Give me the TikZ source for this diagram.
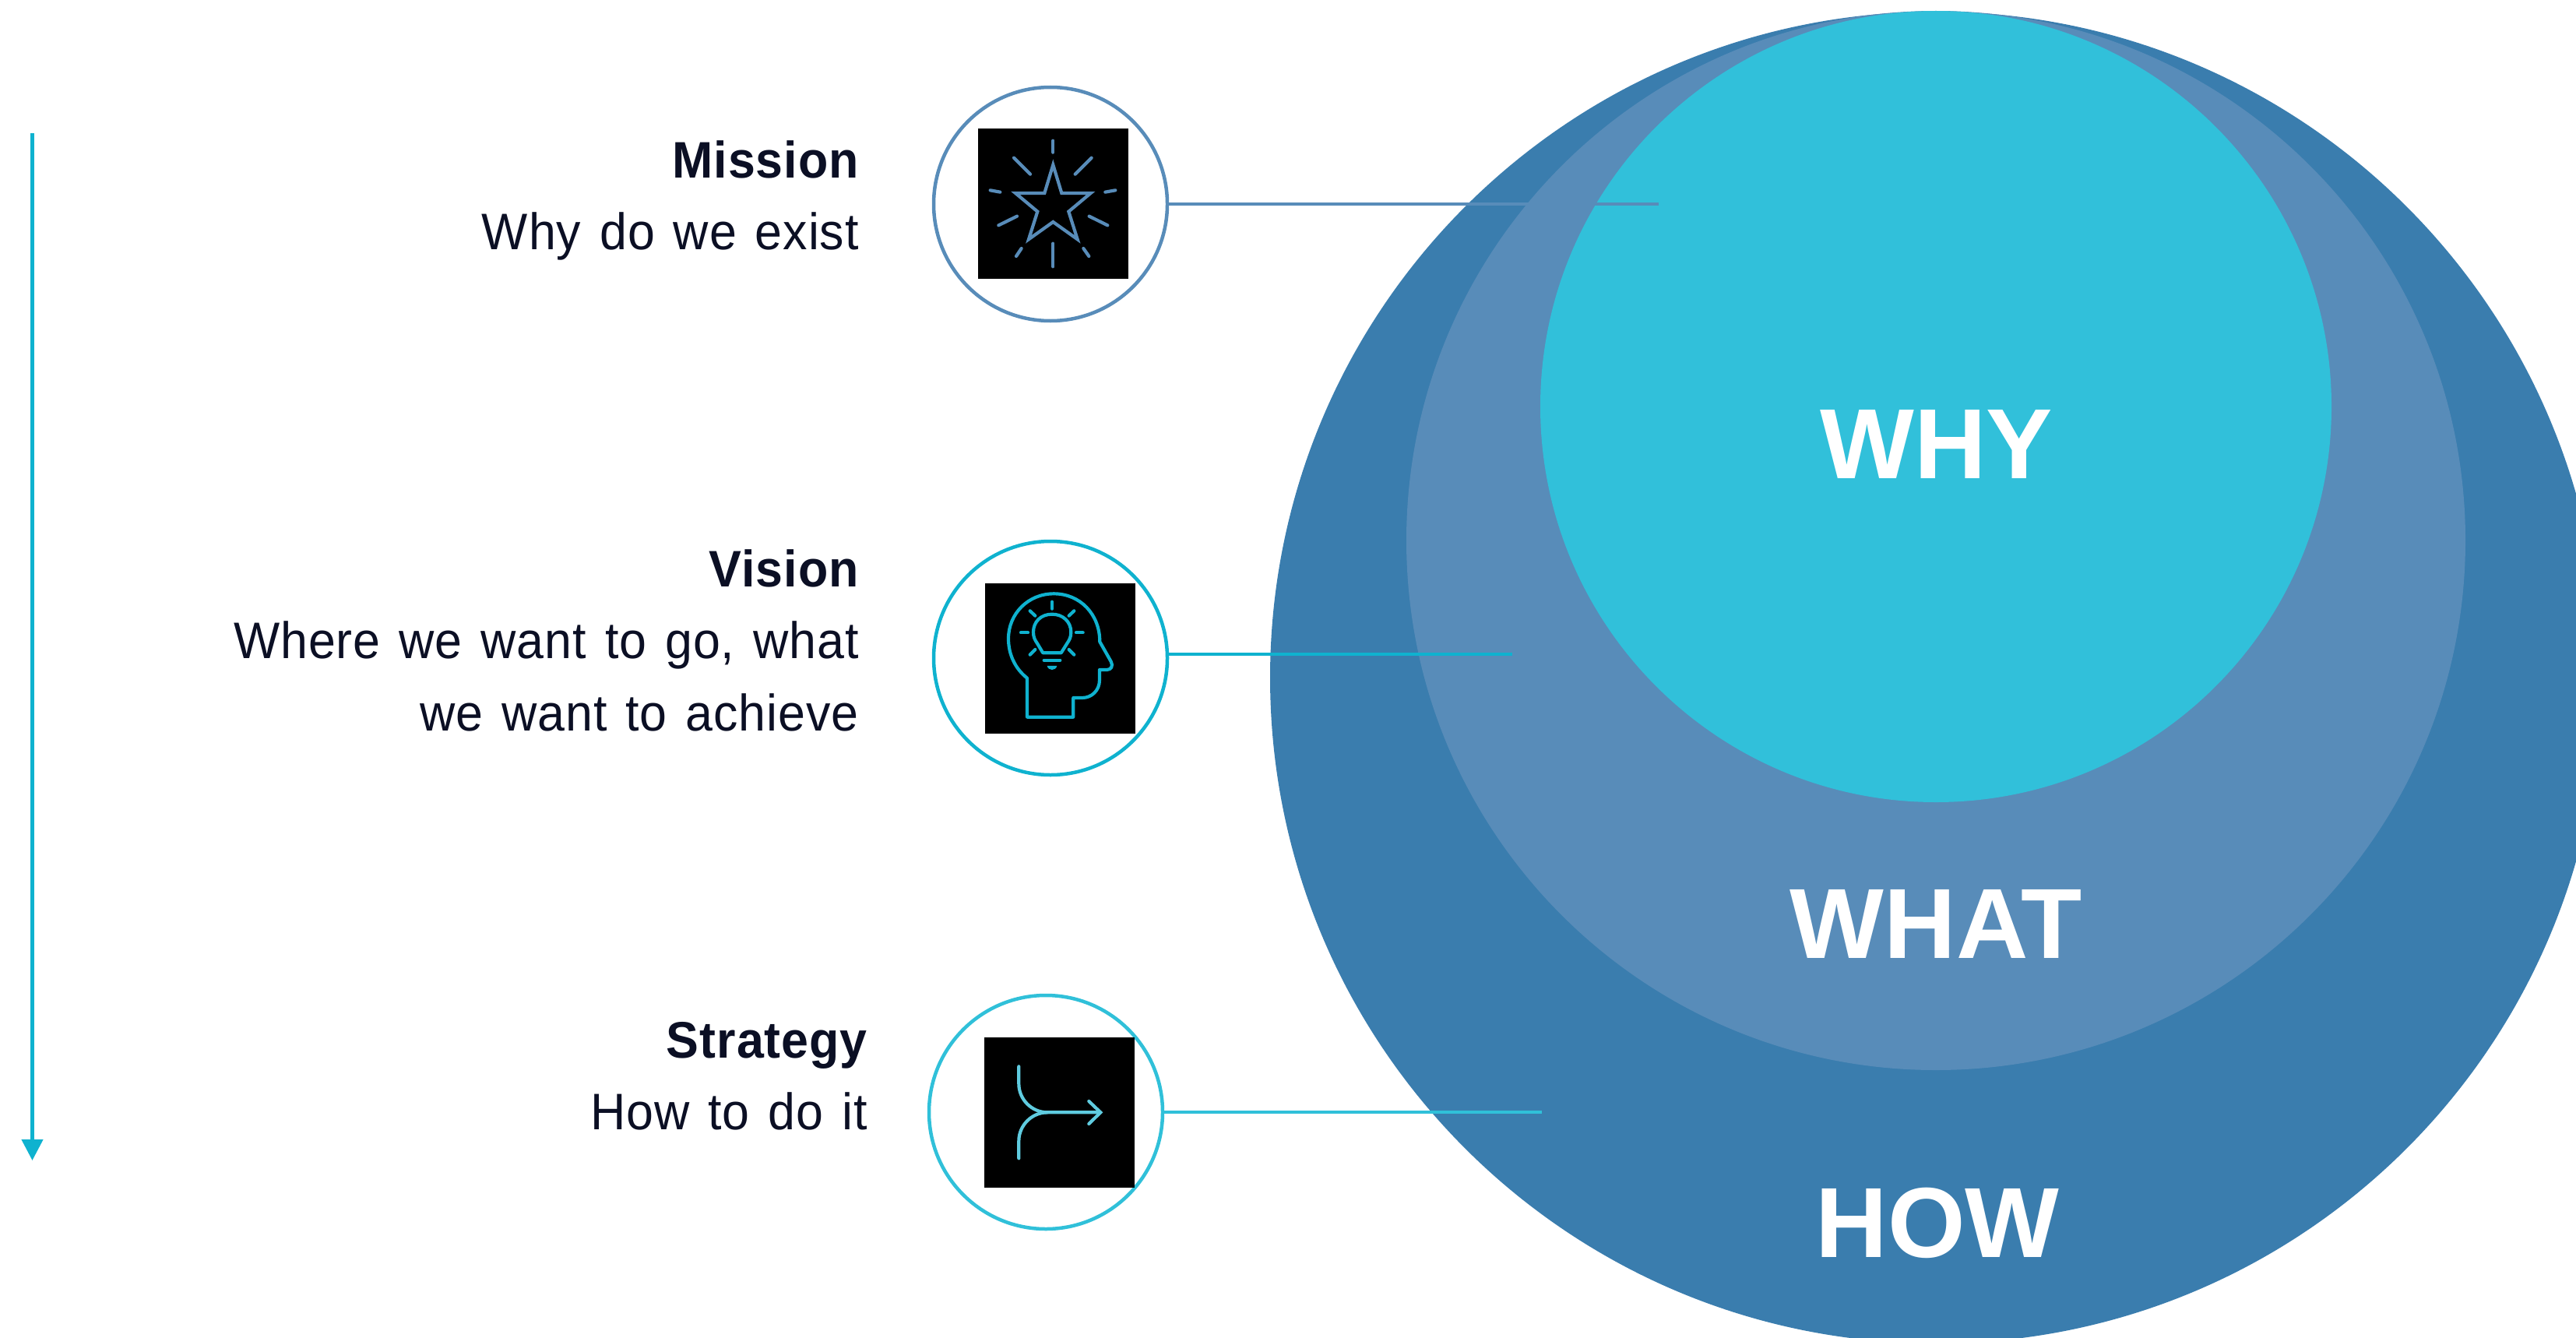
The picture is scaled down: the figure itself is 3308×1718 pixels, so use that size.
\documentclass[tikz,border=0pt]{standalone}
\usepackage{fontspec}
\setmainfont{Liberation Sans}
\newfontfamily\lblfont[FakeStretch=0.95,LetterSpace=1.5,WordSpace=1.3]{Liberation Sans}
\usetikzlibrary{arrows.meta}
\definecolor{howblue}{HTML}{3A7DAE}
\definecolor{whatblue}{HTML}{588CB9}
\definecolor{whycyan}{HTML}{31C0DA}
\definecolor{inktext}{HTML}{0B0F24}
\definecolor{visioncol}{HTML}{0FB2CF}
\definecolor{stratcol}{HTML}{30C0D9}
\definecolor{iconstrat}{HTML}{5FCBDF}
\tikzset{
  x=1pt,y=-1pt,
  disc/.style={circle,inner sep=0pt,minimum size=#1,draw=none},
  ring/.style={circle,inner sep=0pt,minimum size=300pt,line width=4.5pt,fill=white},
  iconbg/.style={fill=black,draw=none,inner sep=0pt,minimum size=193pt},
  link/.style={line width=4pt},
  big/.style={white,font=\fontsize{128}{128}\selectfont\bfseries,inner sep=0pt},
  headtxt/.style={text=inktext,font=\lblfont\fontsize{66}{93}\selectfont\bfseries,anchor=base east,inner sep=0pt},
  bodytxt/.style={text=inktext,font=\lblfont\fontsize{66}{93}\selectfont,anchor=base east,inner sep=0pt,align=right},
  iconline/.style={line width=4.2pt,line cap=round,line join=miter},
}
\begin{document}
\begin{tikzpicture}
\useasboundingbox (0,0) rectangle (3308,1718);
\begin{scope}
\clip (0,0) rectangle (3308,1718);
\node[disc=1710pt,fill=howblue] (how) at (2486,870) {};
\node[disc=1360pt,fill=whatblue] (what) at (2486,694) {};
\node[disc=1016pt,fill=whycyan] (why) at (2486,522) {};
\end{scope}
\node[big] at (2487,570) {WHY};
\node[big] at (2486,1186) {WHAT};
\node[big] at (2488,1570) {HOW};
% time arrow
\coordinate (arrowtop) at (41.5,171);
\coordinate (arrowend) at (41.5,1490);
\draw[visioncol,line width=4.5pt,-{Triangle[length=27pt,width=27pt]}] (arrowtop) -- (arrowend);
% rings
\node[ring,draw=whatblue] (mring) at (1349,262) {};
\node[ring,draw=visioncol] (vring) at (1349,845) {};
\node[ring,draw=stratcol] (sring) at (1343,1428) {};
% connectors
\coordinate (mend) at (2130,262);
\coordinate (vend) at (1942,840);
\coordinate (send) at (1980,1428);
\draw[link,whatblue] (mring.east) -- (mend);
\draw[link,visioncol] (vring.east |- vend) -- (vend);
\draw[link,stratcol] (sring.east) -- (send);
% icon squares
\node[iconbg] (micon) at (1352.5,261.5) {};
\node[iconbg] (vicon) at (1361.5,845.5) {};
\node[iconbg] (sicon) at (1360.5,1428.5) {};
% star icon
\begin{scope}[shift={(1170,90)},x=0.3333pt,y=-0.3333pt,iconline,draw=whatblue]
\draw (547,365) -- (580,474) -- (692,474) -- (607,545) -- (641,652) -- (547,585) -- (453,652) -- (487,545) -- (402,474) -- (514,474) -- cycle;
\draw (547,272) -- (547,317);
\draw (547,668) -- (547,757);
\draw (396,338) -- (459,401);
\draw (695,338) -- (632,401);
\draw (305,463) -- (343,470);
\draw (787,463) -- (748,470);
\draw (337,598) -- (408,563);
\draw (757,598) -- (686,563);
\draw (405,717) -- (425,687);
\draw (685,717) -- (664,687);
\end{scope}
% head icon
\begin{scope}[shift={(1170,670)},x=0.3333pt,y=-0.3333pt,iconline,draw=visioncol]
\draw[line join=round] (447,752) -- (447,602) .. controls (400,565) and (375,510) .. (375,450) .. controls (375,355) and (450,277) .. (550,277) .. controls (650,277) and (727,355) .. (727,462) -- (770,538) .. controls (780,555) and (770,570) .. (755,570) -- (726,570) -- (726,610) .. controls (726,650) and (695,678) .. (660,678) -- (625,678) -- (625,752) -- cycle;
\draw[line join=round] (508,505) -- (578,505) -- (600,470) .. controls (610,455) and (616,445) .. (616,425) .. controls (616,385) and (585,356) .. (543,356) .. controls (500,356) and (471,385) .. (471,425) .. controls (471,445) and (477,455) .. (487,470) -- cycle;
\draw (512,533) -- (574,533);
\fill[visioncol] (524,555) -- (562,555) .. controls (558,575) and (528,575) .. (524,555) -- cycle;
\draw (543,308) -- (543,335);
\draw (458,343) -- (478,362);
\draw (628,343) -- (608,362);
\draw (423,427) -- (450,427);
\draw (662,427) -- (636,427);
\draw (458,512) -- (478,492);
\draw (628,512) -- (608,492);
\end{scope}
% merge icon
\begin{scope}[shift={(1170,1260)},x=0.3333pt,y=-0.3333pt,iconline,draw=iconstrat]
\draw (415,328) -- (415,395) .. controls (415,455) and (465,505) .. (525,505) -- (730,505);
\draw (415,682) -- (415,615) .. controls (415,555) and (465,505) .. (525,505);
\draw (685,462) -- (730,505) -- (685,549);
\end{scope}
% texts
\node[headtxt] (mh) at (1103,228) {Mission};
\node[bodytxt] (mb) at (1103,320) {Why do we exist};
\node[headtxt] (vh) at (1103,753) {Vision};
\node[bodytxt] (vb) at (1103,845) {Where we want to go, what};
\node[bodytxt] (vc) at (1103,938) {we want to achieve};
\node[headtxt] (sh) at (1114,1358) {Strategy};
\node[bodytxt] (sb) at (1114,1450) {How to do it};
\end{tikzpicture}
\end{document}
